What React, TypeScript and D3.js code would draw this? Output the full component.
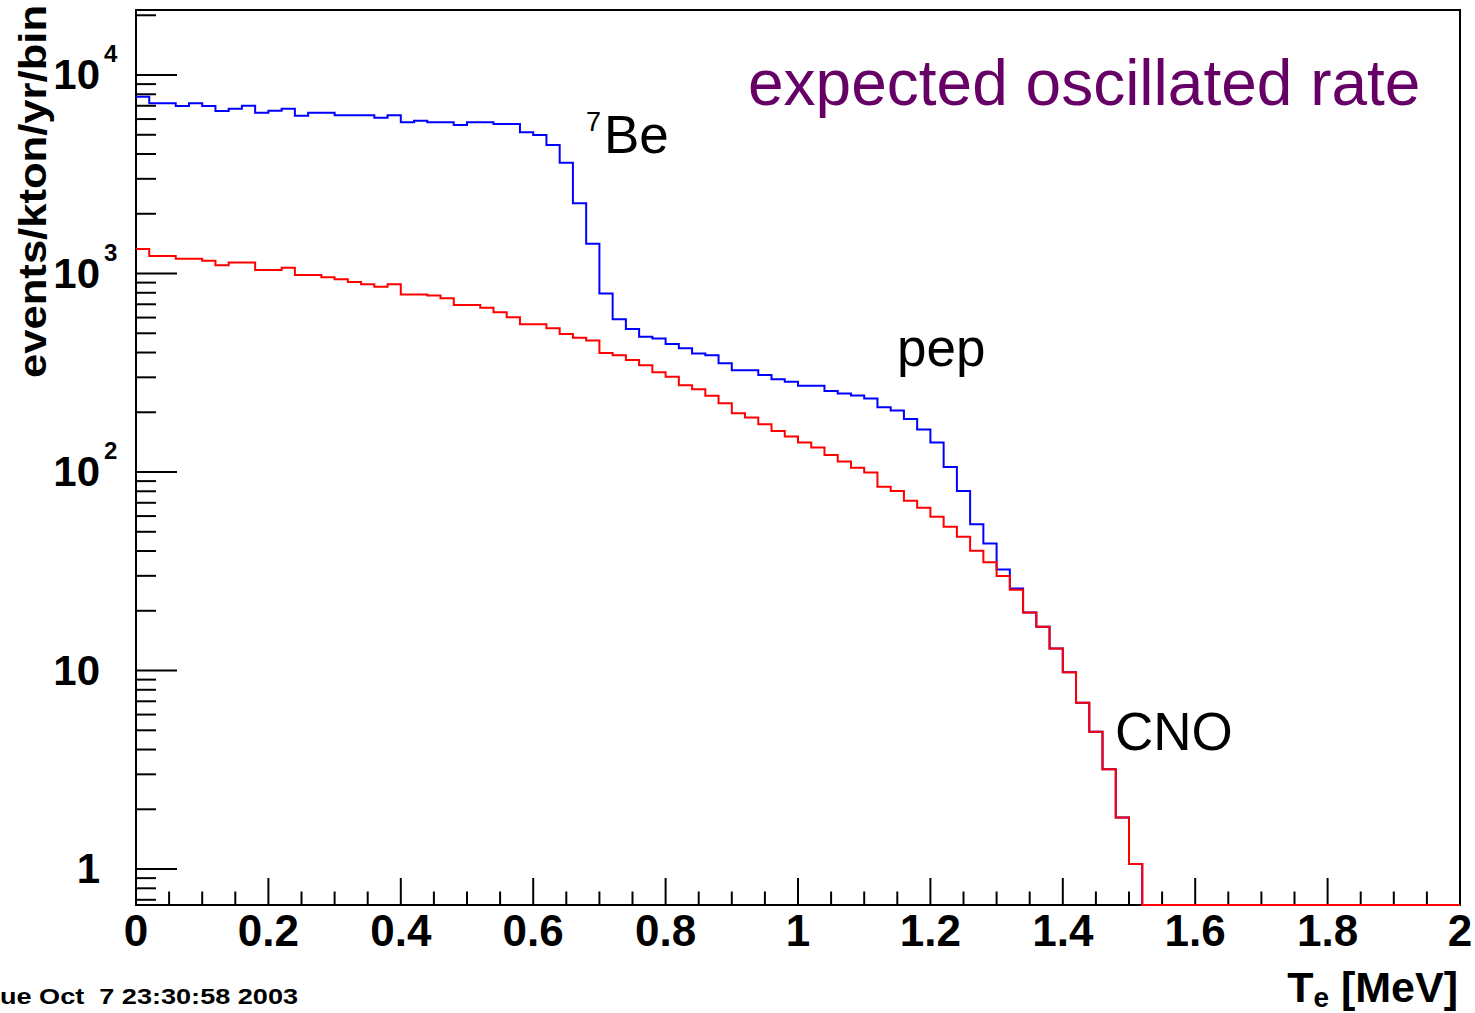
import React from "react";
import * as d3 from "d3";

const BIN_WIDTH = 0.02;

// Total (7Be + pep + CNO) oscillated rate, events/kton/yr/bin, 100 bins of 0.02 MeV
const totalRate = [
  7780, 7200, 7200, 6980, 7200, 6980, 6590, 6760, 7000, 6460,
  6610, 6760, 6240, 6460, 6460, 6270, 6270, 6270, 6100, 6270,
  5780, 5890, 5780, 5780, 5600, 5780, 5780, 5670, 5670, 5145,
  4990, 4440, 3615, 2258, 1413, 794, 588, 525, 481, 471,
  442, 420, 396, 388, 353, 326, 326, 308, 293, 285,
  272, 272, 256, 249, 243, 235, 212, 204, 185, 164,
  141, 106, 80.2, 54.5, 43.7, 32.3, 25.9, 19.6, 16.6, 12.9,
  9.8, 6.88, 4.92, 3.18, 1.82, 1.06, 0, 0, 0, 0,
  0, 0, 0, 0, 0, 0, 0, 0, 0, 0,
  0, 0, 0, 0, 0, 0, 0, 0, 0, 0,
];

// CNO oscillated rate
const cnoRate = [
  1328, 1225, 1225, 1188, 1188, 1160, 1100, 1138, 1138, 1042,
  1042, 1069, 983, 983, 957, 935, 906, 883, 859, 883,
  785, 785, 774, 750, 694, 694, 673, 638, 602, 555,
  555, 530, 496, 475, 460, 398, 387, 367, 345, 318,
  302, 274, 261, 242, 222, 198, 188, 174, 161, 151,
  141, 133, 122, 113, 105, 99.4, 84.3, 80.2, 71.7, 66.1,
  59.6, 53.0, 47.2, 40.1, 35.1, 29.9, 25.5, 19.6, 16.6, 12.9,
  9.8, 6.88, 4.92, 3.18, 1.82, 1.06, 0, 0, 0, 0,
  0, 0, 0, 0, 0, 0, 0, 0, 0, 0,
  0, 0, 0, 0, 0, 0, 0, 0, 0, 0,
];

const xMajorTicks = [0, 0.2, 0.4, 0.6, 0.8, 1, 1.2, 1.4, 1.6, 1.8, 2];
const xTickLabels = ["0", "0.2", "0.4", "0.6", "0.8", "1", "1.2", "1.4", "1.6", "1.8", "2"];
const yMajorTicks = [1, 10, 100, 1000, 10000];
const yTickBase = ["1", "10", "10", "10", "10"];
const yTickExp = ["", "", "2", "3", "4"];

const X_DOMAIN: [number, number] = [0, 2];
const Y_DOMAIN: [number, number] = [0.659, 21260];

const W = 1475;
const H = 1013;
const L = 136, R = 1460, T = 10, B = 905;

export default function App() {
  const x = d3.scaleLinear().domain(X_DOMAIN).range([L, R]);
  const y = d3.scaleLog().domain(Y_DOMAIN).range([B, T]);
  const yc = (v: number) => (v > Y_DOMAIN[0] ? Math.min(y(v), B) : B);

  const histPath = (vals: number[]) => {
    const pts: [number, number][] = vals.map((v, i) => [x(i * BIN_WIDTH), yc(v)]);
    pts.push([x(vals.length * BIN_WIDTH), yc(vals[vals.length - 1])]);
    return d3.line().curve(d3.curveStepAfter)(pts) || "";
  };

  const xMinor = d3.range(0, 2.0001, 0.05).filter(
    (t) => !xMajorTicks.some((m) => Math.abs(m - t) < 1e-6)
  );
  const yMinor: number[] = [];
  for (let e = -1; e <= 4; e++) {
    for (let k = 2; k <= 9; k++) {
      const v = k * Math.pow(10, e);
      if (v >= Y_DOMAIN[0] && v <= Y_DOMAIN[1]) yMinor.push(v);
    }
  }

  const font = "'Liberation Sans', Arial, Helvetica, sans-serif";

  return (
    <svg
      width={W}
      height={H}
      viewBox={`0 0 ${W} ${H}`}
      style={{ position: "absolute", left: 0, top: 0, background: "#fff" }}
      fontFamily={font}
    >
      <rect x={0} y={0} width={W} height={H} fill="#fff" />

      {/* frame */}
      <rect x={L} y={T} width={R - L} height={B - T} fill="none" stroke="#000" strokeWidth={2} />

      {/* histograms */}
      <path d={histPath(totalRate)} fill="none" stroke="#0000ff" strokeWidth={2} />
      <path d={histPath(cnoRate)} fill="none" stroke="#ff0000" strokeWidth={2} />

      {/* x ticks */}
      {xMajorTicks.map((t) => (
        <line key={"xm" + t} x1={x(t)} x2={x(t)} y1={B - 1} y2={B - 27} stroke="#000" strokeWidth={2} />
      ))}
      {xMinor.map((t) => (
        <line key={"xn" + t} x1={x(t)} x2={x(t)} y1={B - 1} y2={B - 13.5} stroke="#000" strokeWidth={2} />
      ))}
      {xMajorTicks.map((t, i) => (
        <text key={"xl" + t} x={x(t)} y={946} textAnchor="middle" fontSize={44} fontWeight="bold">
          {xTickLabels[i]}
        </text>
      ))}

      {/* y ticks */}
      {yMajorTicks.map((t) => (
        <line key={"ym" + t} x1={L} x2={L + 41} y1={y(t)} y2={y(t)} stroke="#000" strokeWidth={2} />
      ))}
      {yMinor.map((t) => (
        <line key={"yn" + t} x1={L} x2={L + 20} y1={y(t)} y2={y(t)} stroke="#000" strokeWidth={2} />
      ))}
      {yMajorTicks.map((t, i) => (
        <g key={"yl" + t}>
          <text x={100} y={y(t) + 14} textAnchor="end" fontSize={42} fontWeight="bold">
            {yTickBase[i]}
          </text>
          {yTickExp[i] && (
            <text x={104} y={y(t) - 13} textAnchor="start" fontSize={24} fontWeight="bold">
              {yTickExp[i]}
            </text>
          )}
        </g>
      ))}

      {/* axis titles */}
      <text
        transform="translate(46,5) rotate(-90)"
        textAnchor="end"
        fontSize={38}
        fontWeight="bold"
        textLength={373}
        lengthAdjust="spacingAndGlyphs"
      >
        events/kton/yr/bin
      </text>
      <text x={1458} y={1002} textAnchor="end" fontSize={43} fontWeight="bold">
        T
        <tspan fontSize={28} dy={5}>e</tspan>
        <tspan dy={-5}> [MeV]</tspan>
      </text>

      {/* timestamp */}
      <text
        x={0}
        y={1004}
        fontSize={22}
        fontWeight="bold"
        textLength={298}
        lengthAdjust="spacingAndGlyphs"
        style={{ whiteSpace: "pre" }}
      >
        {"ue Oct  7 23:30:58 2003"}
      </text>

      {/* annotations */}
      <text x={748} y={105} fontSize={64} fill="#660066">
        expected oscillated rate
      </text>
      <text x={586} y={131} fontSize={27}>7</text>
      <text x={604} y={153} fontSize={53}>Be</text>
      <text x={897} y={366} fontSize={53}>pep</text>
      <text x={1115} y={750} fontSize={53}>CNO</text>
    </svg>
  );
}
